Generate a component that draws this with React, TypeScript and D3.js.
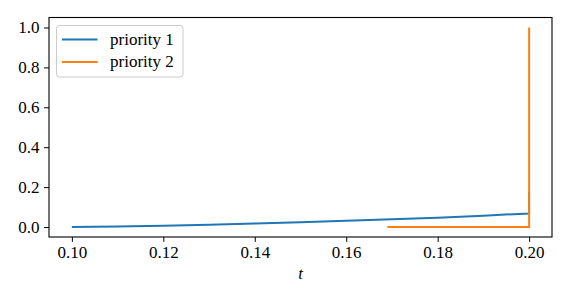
import React, { useRef, useEffect } from 'react';
import * as d3 from 'd3';

// priority 1 series
const p1T = [0.10, 0.11, 0.12, 0.13, 0.14, 0.15, 0.16, 0.17, 0.18, 0.19, 0.20, 0.20];
const p1V = [0.0, 0.003, 0.007, 0.012, 0.018, 0.024, 0.031, 0.039, 0.047, 0.057, 0.068, 0.177];

// priority 2 series
const p2T = [0.169, 0.20, 0.20];
const p2V = [0.0, 0.0, 1.0];

const xTicks = [0.10, 0.12, 0.14, 0.16, 0.18, 0.20];
const yTicks = [0.0, 0.2, 0.4, 0.6, 0.8, 1.0];
const seriesNames = ['priority 1', 'priority 2'];
const colors = ['#1f77b4', '#ff7f0e'];

const App = () => {
  const ref = useRef<SVGSVGElement | null>(null);

  useEffect(() => {
    const svg = d3.select(ref.current);
    svg.selectAll('*').remove();

    const margin = { top: 17.5, right: 18, bottom: 63, left: 49 };
    const width = 570 - margin.left - margin.right;
    const height = 300 - margin.top - margin.bottom;
    const font = '"Liberation Serif", serif';
    const fs = '17px';

    const g = svg.append('g').attr('transform', `translate(${margin.left},${margin.top})`);

    const x = d3.scaleLinear().domain([0.095, 0.205]).range([0, width]);
    const y = d3.scaleLinear().domain([-0.05, 1.05]).range([height, 0]);

    // axes
    const xAxis = g.append('g')
      .attr('transform', `translate(0,${height})`)
      .call(d3.axisBottom(x).tickValues(xTicks).tickFormat(d3.format('.2f')).tickSize(4.9).tickPadding(4));
    const yAxis = g.append('g')
      .call(d3.axisLeft(y).tickValues(yTicks).tickFormat(d3.format('.1f')).tickSize(4.9).tickPadding(4.5));
    [xAxis, yAxis].forEach(a => {
      a.select('.domain').remove();
      a.selectAll('line').attr('stroke', '#000').attr('stroke-width', 1);
      a.selectAll('text').attr('fill', '#000').style('font-family', font).style('font-size', fs);
    });

    // lines
    const line = d3.line<[number, number]>().x(d => x(d[0])).y(d => y(d[1]));
    const series = [
      p1T.map((t, i) => [t, p1V[i]] as [number, number]),
      p2T.map((t, i) => [t, p2V[i]] as [number, number]),
    ];
    series.forEach((s, i) => {
      g.append('path')
        .datum(s)
        .attr('d', line)
        .attr('fill', 'none')
        .attr('stroke', colors[i])
        .attr('stroke-width', 2);
    });

    // frame
    g.append('rect')
      .attr('width', width)
      .attr('height', height)
      .attr('fill', 'none')
      .attr('stroke', '#000')
      .attr('stroke-width', 1.1);

    // x label
    g.append('text')
      .attr('x', width / 2)
      .attr('y', height + 42)
      .attr('text-anchor', 'middle')
      .style('font-family', font)
      .style('font-style', 'italic')
      .style('font-size', fs)
      .text('t');

    // legend
    const lg = g.append('g').attr('transform', 'translate(7.5,8)');
    lg.append('rect')
      .attr('width', 126.5)
      .attr('height', 51.5)
      .attr('rx', 3)
      .attr('fill', 'rgba(255,255,255,0.8)')
      .attr('stroke', '#cccccc')
      .attr('stroke-width', 1);
    seriesNames.forEach((name, i) => {
      const yy = 14 + i * 22.4;
      lg.append('line')
        .attr('x1', 5.5).attr('x2', 41)
        .attr('y1', yy).attr('y2', yy)
        .attr('stroke', colors[i])
        .attr('stroke-width', 2);
      lg.append('text')
        .attr('x', 53.5)
        .attr('y', yy + 5.5)
        .style('font-family', font)
        .style('font-size', fs)
        .text(name);
    });
  }, []);

  return (
    <div style={{ position: 'fixed', left: 0, top: 0, width: 570, height: 300, background: '#fff' }}>
      <svg ref={ref} width={570} height={300}></svg>
    </div>
  );
};

export default App;
